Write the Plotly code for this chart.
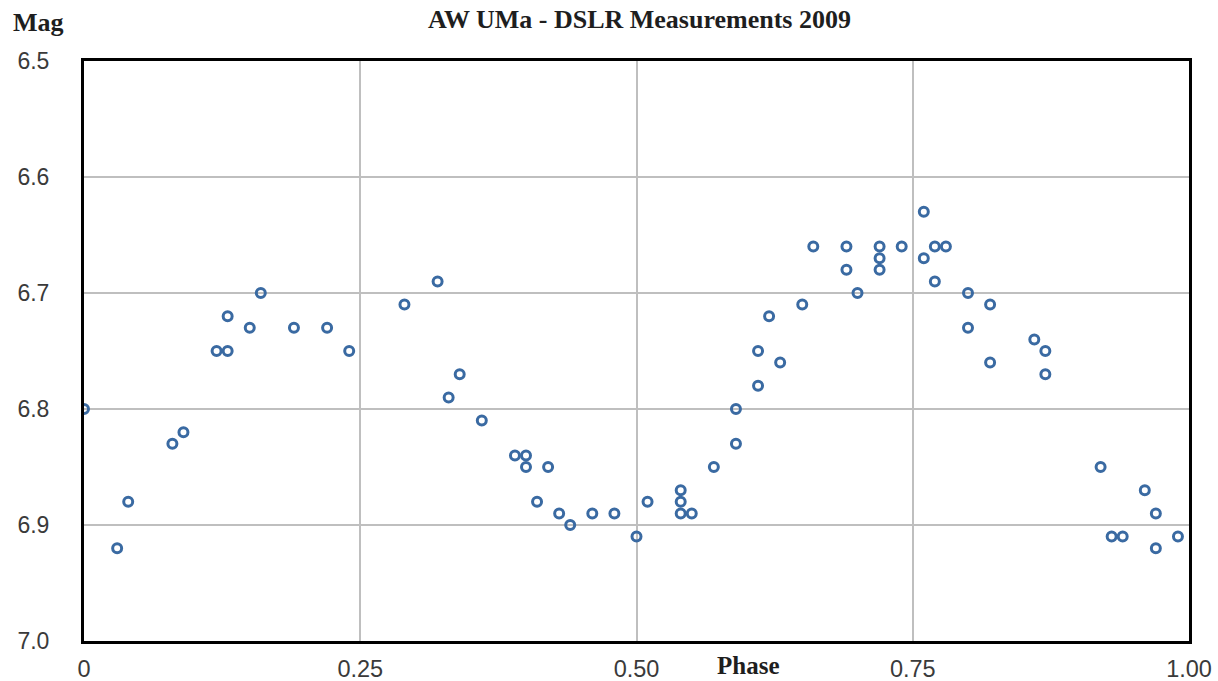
import plotly.graph_objects as go

phase = [0.00, 0.03, 0.04, 0.08, 0.09, 0.12, 0.13, 0.13, 0.15, 0.16, 0.19, 0.22, 0.24,
         0.29, 0.32, 0.33, 0.34, 0.36, 0.39, 0.40, 0.40, 0.41, 0.42, 0.43, 0.44, 0.46,
         0.48, 0.50, 0.51, 0.54, 0.54, 0.54, 0.55, 0.57, 0.59, 0.59, 0.61, 0.61, 0.62,
         0.63, 0.65, 0.66, 0.69, 0.69, 0.70, 0.72, 0.72, 0.72, 0.74, 0.76, 0.76, 0.77,
         0.77, 0.78, 0.80, 0.80, 0.82, 0.82, 0.86, 0.87, 0.87, 0.92, 0.93, 0.94, 0.96,
         0.97, 0.97, 0.99]
mag = [6.80, 6.92, 6.88, 6.83, 6.82, 6.75, 6.75, 6.72, 6.73, 6.70, 6.73, 6.73, 6.75,
       6.71, 6.69, 6.79, 6.77, 6.81, 6.84, 6.84, 6.85, 6.88, 6.85, 6.89, 6.90, 6.89,
       6.89, 6.91, 6.88, 6.87, 6.88, 6.89, 6.89, 6.85, 6.83, 6.80, 6.78, 6.75, 6.72,
       6.76, 6.71, 6.66, 6.66, 6.68, 6.70, 6.66, 6.67, 6.68, 6.66, 6.63, 6.67, 6.66,
       6.69, 6.66, 6.70, 6.73, 6.71, 6.76, 6.74, 6.75, 6.77, 6.85, 6.91, 6.91, 6.87,
       6.89, 6.92, 6.91]

x_ticks = [0, 0.25, 0.5, 0.75, 1.0]
x_labels = ["0", "0.25", "0.50", "0.75", "1.00"]
y_ticks = [6.5, 6.6, 6.7, 6.8, 6.9, 7.0]
y_labels = ["6.5", "6.6", "6.7", "6.8", "6.9", "7.0"]

fig = go.Figure()
fig.add_trace(go.Scatter(
    x=phase, y=mag, mode="markers",
    marker=dict(symbol="circle-open", size=9, color="#3a6aa2",
                line=dict(width=3, color="#3a6aa2")),
    showlegend=False, hoverinfo="x+y"))

label_font = dict(family="Liberation Serif", size=26, color="#1e1e1e")

W, H = 1218, 681
L, R, T, B = 84, 29, 61, 40
PW, PH = W - L - R, H - T - B


def px(x_fig):
    return (x_fig - L) / PW


def py(y_fig):
    return (H - B - y_fig) / PH


fig.update_layout(
    width=W, height=H,
    margin=dict(l=L, r=R, t=T, b=B),
    paper_bgcolor="white", plot_bgcolor="white",
    xaxis=dict(range=[0, 1], tickvals=x_ticks, ticktext=x_labels, automargin=False,
               showgrid=True, gridcolor="#bfbfbf", gridwidth=1.8,
               showline=True, linecolor="black", linewidth=3, mirror=True,
               ticks="", zeroline=False, ticklabelstandoff=5,
               tickfont=dict(family="Liberation Sans", size=23.5, color="#3a3a3a")),
    yaxis=dict(range=[7.0, 6.5], tickvals=y_ticks, ticktext=y_labels, automargin=False,
               showgrid=True, gridcolor="#bfbfbf", gridwidth=1.8,
               showline=True, linecolor="black", linewidth=3, mirror=True,
               ticks="", zeroline=False, ticklabelstandoff=27,
               tickfont=dict(family="Liberation Sans", size=23, color="#3a3a3a")),
    annotations=[
        dict(text="<b>AW UMa - DSLR Measurements 2009</b>", xref="paper", yref="paper",
             x=px(639), y=py(20), xanchor="center", yanchor="middle", showarrow=False,
             font=label_font),
        dict(text="<b>Mag</b>", xref="paper", yref="paper",
             x=px(38), y=py(22), xanchor="center", yanchor="middle",
             showarrow=False, font=label_font),
        dict(text="<b>Phase</b>", xref="paper", yref="paper",
             x=px(748), y=py(665), xanchor="center", yanchor="middle",
             showarrow=False, font=dict(family="Liberation Serif", size=25, color="#1e1e1e")),
    ],
)

fig.write_html(
    "out.html",
    config={"displayModeBar": False},
    post_script="document.body.style.margin='0';document.body.style.overflow='hidden';",
)
